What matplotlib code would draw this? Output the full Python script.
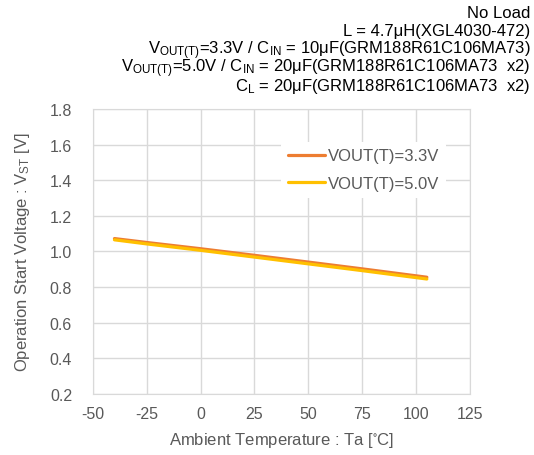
import matplotlib
matplotlib.use("Agg")
import matplotlib.pyplot as plt

plt.rcParams['font.family'] = ['Liberation Sans', 'DejaVu Sans']
plt.rcParams['mathtext.fontset'] = 'custom'
plt.rcParams['mathtext.rm'] = 'Liberation Sans'
plt.rcParams['mathtext.it'] = 'Liberation Sans'
plt.rcParams['mathtext.default'] = 'regular'
plt.rcParams['axes.unicode_minus'] = False

temps = [-40, -25, 0, 25, 50, 75, 105]
vst_33 = [1.072, 1.050, 1.015, 0.978, 0.940, 0.902, 0.855]
vst_50 = [1.065, 1.042, 1.006, 0.968, 0.930, 0.892, 0.845]
series_labels = ["VOUT(T)=3.3V", "VOUT(T)=5.0V"]
xticks = [-50, -25, 0, 25, 50, 75, 100, 125]
yticks = [0.2, 0.4, 0.6, 0.8, 1.0, 1.2, 1.4, 1.6, 1.8]
header = [
    "No Load",
    "L = 4.7μH(XGL4030-472)",
    "V$_{OUT(T)}$=3.3V / C$_{IN}$ = 10μF(GRM188R61C106MA73)",
    "V$_{OUT(T)}$=5.0V / C$_{IN}$ = 20μF(GRM188R61C106MA73  x2)",
    "C$_{L}$ = 20μF(GRM188R61C106MA73  x2)",
]

txt = '#595959'
grid = '#d9d9d9'

fig = plt.figure(figsize=(5.34, 4.56), dpi=100)
ax = fig.add_axes([0.174, 0.134, 0.706, 0.625])

ax.plot(temps, vst_33, color='#ed7d31', lw=2.3, label=series_labels[0], solid_capstyle='round')
ax.plot(temps, vst_50, color='#ffc000', lw=2.3, label=series_labels[1], solid_capstyle='round')

ax.set_xlim(-50, 125)
ax.set_ylim(0.2, 1.8)
ax.set_xticks(xticks)
ax.set_yticks(yticks)
ax.set_yticklabels([f"{v:.1f}" for v in yticks])
ax.grid(True, color=grid, lw=1)
ax.set_axisbelow(True)
for s in ax.spines.values():
    s.set_color(grid)
ax.tick_params(length=0, colors=txt, labelsize=11.5)
ax.tick_params(axis='y', pad=15)
ax.tick_params(axis='x', pad=9)

ax.set_xlabel("Ambient Temperature : Ta [$^{\\circ}$C]", color=txt, fontsize=12, labelpad=6)
ax.set_ylabel("Operation Start Voltage : V$_{ST}$ [V]", color=txt, fontsize=12, labelpad=13)

leg = ax.legend(loc='upper left', bbox_to_anchor=(0.5, 0.885), frameon=True, fontsize=12,
                handlelength=2.2, handletextpad=0.2, labelspacing=0.75, borderaxespad=0)
leg.get_frame().set_facecolor('white')
leg.get_frame().set_edgecolor('none')
leg.get_frame().set_alpha(1)
for t in leg.get_texts():
    t.set_color(txt)

for i, line in enumerate(header):
    fig.text(0.993, 1 - (18.3 + 18.1 * i) / 456, line, ha='right', va='baseline',
             fontsize=12, color='black')

fig.savefig("out.png", dpi=100)
